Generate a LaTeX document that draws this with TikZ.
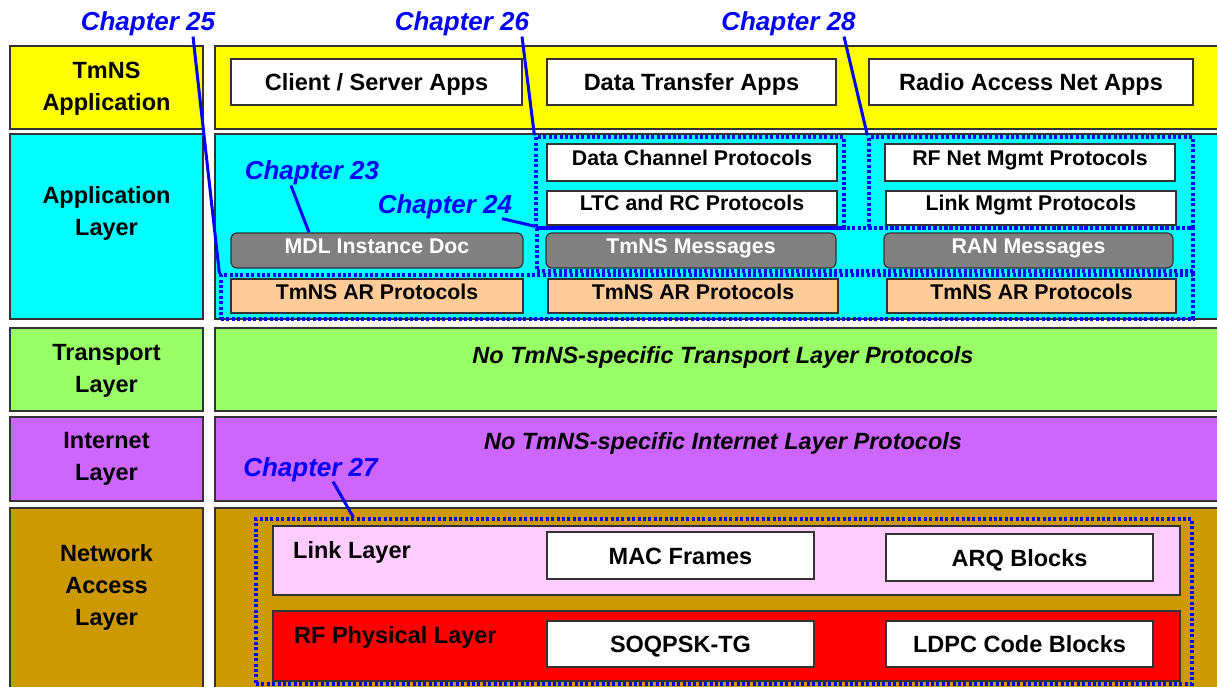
\documentclass[tikz,border=0pt]{standalone}
\usepackage{fontspec}
\setmainfont{Liberation Sans}
\usepackage{xcolor}
\usepackage{tikz}
\definecolor{appyel}{HTML}{FFFF00}
\definecolor{appcyan}{HTML}{00FFFF}
\definecolor{trgreen}{HTML}{99FF66}
\definecolor{inpurple}{HTML}{CC66FF}
\definecolor{nagold}{HTML}{CC9900}
\definecolor{linkpink}{HTML}{FFCCFF}
\definecolor{phyred}{HTML}{FF0000}
\definecolor{arpeach}{HTML}{FFCC99}
\definecolor{msggray}{HTML}{808080}
\definecolor{chblue}{HTML}{0000FF}
\definecolor{edge}{HTML}{333333}
\tikzset{
  lay/.style={draw=edge, line width=1.2pt, inner sep=0pt},
  laytxt/.style={inner sep=0pt, align=center, font=\fontsize{23.5}{32}\selectfont\bfseries},
  big/.style={draw=edge, fill=white, line width=1.2pt, inner sep=0pt, text height=17pt, text depth=0pt, font=\fontsize{23.5}{28}\selectfont\bfseries},
  small/.style={draw=edge, line width=1.2pt, inner sep=0pt, text height=6pt, text depth=0pt, font=\fontsize{21.3}{25}\selectfont\bfseries},
  proto/.style={small, fill=white},
  msg/.style={small, fill=msggray, text=white, rounded corners=6pt},
  ar/.style={small, fill=arpeach},
  note/.style={inner sep=0pt, anchor=base, font=\fontsize{23.5}{28}\selectfont\bfseries\itshape},
  sub/.style={inner sep=0pt, anchor=base west, font=\fontsize{23.5}{28}\selectfont\bfseries},
  chapbox/.style={draw=chblue, line width=3.2pt, dash pattern=on 3pt off 2.4pt, inner sep=0pt},
  chaplbl/.style={inner sep=0pt, anchor=base, text=chblue, font=\fontsize{26}{30}\selectfont\bfseries\itshape},
  chapline/.style={draw=chblue, line width=3pt},
}
\begin{document}
\begin{tikzpicture}[x=1pt, y=-1pt]
  \useasboundingbox (0,0) rectangle (1217,687);
  % layer rows, left column
  \node[lay, fill=appyel, minimum width=193, minimum height=83] (tmnsL) at (106.5,87.5) {};
  \node[lay, fill=appcyan, minimum width=193, minimum height=185] (appL) at (106.5,226.5) {};
  \node[lay, fill=trgreen, minimum width=193, minimum height=83] (transL) at (106.5,369.5) {};
  \node[lay, fill=inpurple, minimum width=193, minimum height=84] (inetL) at (106.5,459) {};
  \node[lay, fill=nagold, minimum width=193, minimum height=187] (netL) at (106.5,601.5) {};
  \node[laytxt] (tmnsT) at (106.5,88.5) {TmNS\\Application};
  \node[laytxt] (appT) at (106.5,213) {Application\\Layer};
  \node[laytxt] (transT) at (106.5,371) {Transport\\Layer};
  \node[laytxt] (inetT) at (106.5,459) {Internet\\Layer};
  \node[laytxt] (netT) at (106.5,587) {Network\\Access\\Layer};
  % layer rows, right column
  \node[lay, fill=appyel, minimum width=1010, minimum height=83] (tmnsR) at (720,87.5) {};
  \node[lay, fill=appcyan, minimum width=1010, minimum height=185] (appR) at (720,226.5) {};
  \node[lay, fill=trgreen, minimum width=1010, minimum height=83] (transR) at (720,369.5) {};
  \node[lay, fill=inpurple, minimum width=1010, minimum height=84] (inetR) at (720,459) {};
  \node[lay, fill=nagold, minimum width=1010, minimum height=187] (netR) at (720,601.5) {};
  \node[note] (transN) at (723,363) {No TmNS-specific Transport Layer Protocols};
  \node[note] (inetN) at (723,449) {No TmNS-specific Internet Layer Protocols};
  % TmNS application
  \node[big, minimum width=291, minimum height=46] (cs) at (376.5,82) {Client / Server Apps};
  \node[big, minimum width=289, minimum height=46] (dt) at (691.5,82) {Data Transfer Apps};
  \node[big, minimum width=324, minimum height=46] (ranApps) at (1031,82) {Radio Access Net Apps};
  % application layer
  \node[proto, minimum width=290, minimum height=37] (dcp) at (692,162.5) {Data Channel Protocols};
  \node[proto, minimum width=290, minimum height=34] (ltc) at (692,208) {LTC and RC Protocols};
  \node[proto, minimum width=290, minimum height=37] (rfnm) at (1030,162.5) {RF Net Mgmt Protocols};
  \node[proto, minimum width=290, minimum height=34] (lmp) at (1031,208) {Link Mgmt Protocols};
  \node[msg, minimum width=292, minimum height=35] (mdl) at (377,250.5) {MDL Instance Doc};
  \node[msg, minimum width=290, minimum height=35] (tmsg) at (691,250.5) {TmNS Messages};
  \node[msg, minimum width=289, minimum height=35] (ranMsg) at (1028.5,250.5) {RAN Messages};
  \node[ar, minimum width=292, minimum height=34] (ar1) at (377,296) {TmNS AR Protocols};
  \node[ar, minimum width=290, minimum height=34] (ar2) at (693,296) {TmNS AR Protocols};
  \node[ar, minimum width=289, minimum height=34] (ar3) at (1031.5,296) {TmNS AR Protocols};
  % network access layer
  \node[lay, fill=linkpink, minimum width=907, minimum height=69] (linkL) at (726.5,560.5) {};
  \node[lay, fill=phyred, minimum width=907, minimum height=70] (phyL) at (726.5,646) {};
  \node[sub] (linkT) at (293,558) {Link Layer};
  \node[sub] (phyT) at (294,643) {RF Physical Layer};
  \node[big, minimum width=267, minimum height=47] (mac) at (680.5,555.5) {MAC Frames};
  \node[big, minimum width=267, minimum height=47] (arq) at (1019.5,557.5) {ARQ Blocks};
  \node[big, minimum width=267, minimum height=46] (soq) at (680.5,644) {SOQPSK-TG};
  \node[big, minimum width=267, minimum height=46] (ldpc) at (1019.5,644) {LDPC Code Blocks};
  % chapter outlines
  \node[chapbox, minimum width=308, minimum height=91] (ch26box) at (690,182.5) {};
  \node[chapbox, minimum width=324, minimum height=91] (ch28box) at (1031,182.5) {};
  \node[chapbox, minimum width=656, minimum height=43] (ch24box) at (865,249.5) {};
  \node[chapbox, minimum width=972, minimum height=44] (ch25box) at (707,297) {};
  \node[chapbox, minimum width=936, minimum height=165] (ch27box) at (724,601.5) {};
  % chapter labels
  \node[chaplbl] (ch25) at (148,31) {Chapter 25};
  \node[chaplbl] (ch26) at (462,31) {Chapter 26};
  \node[chaplbl] (ch28) at (788.5,31) {Chapter 28};
  \node[chaplbl] (ch23) at (312,180) {Chapter 23};
  \node[chaplbl] (ch24) at (445,213) {Chapter 24};
  \node[chaplbl] (ch27) at (310.5,476) {Chapter 27};
  \draw[chapline] ([xshift=45pt]ch25.south) -- (ch25box.north west);
  \draw[chapline] ([xshift=60pt]ch26.south) -- (ch26box.north west);
  \draw[chapline] ([xshift=55.5pt]ch28.south) -- (ch28box.north west);
  \draw[chapline] ([xshift=-21pt]ch23.south) -- ([xshift=-68pt]mdl.north);
  \draw[chapline] ([xshift=57pt]ch24.south) -- (ch24box.north west);
  \draw[chapline] ([xshift=22.5pt]ch27.south) -- ([xshift=99pt]ch27box.north west);
\end{tikzpicture}
\end{document}
